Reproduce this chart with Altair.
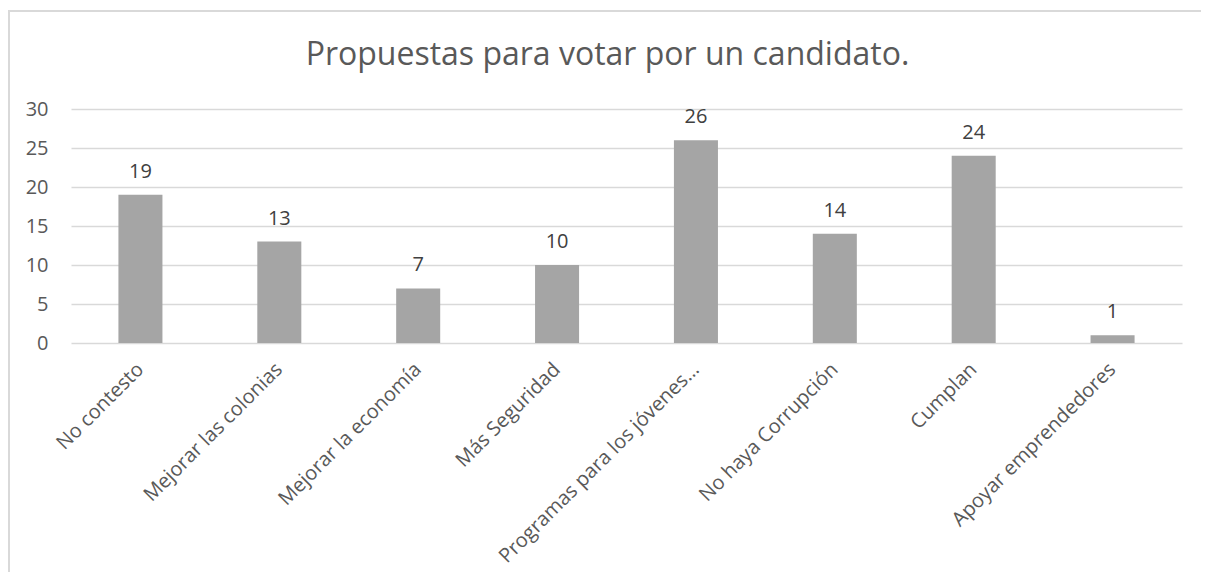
import altair as alt
import pandas as pd

categories = ["No contesto", "Mejorar las  colonias", "Mejorar la economía", "Más Seguridad",
              "Programas para los jóvenes…", "No haya Corrupción", "Cumplan", "Apoyar emprendedores"]
values = [19, 13, 7, 10, 26, 14, 24, 1]
y_ticks = [0, 5, 10, 15, 20, 25, 30]
title_text = "Propuestas para votar por un candidato."

df = pd.DataFrame({"cat": categories, "val": values})
FONT = "Open Sans"
FS = 20

x_enc = alt.X("cat:N", sort=categories, title=None,
              scale=alt.Scale(paddingInner=0.683, paddingOuter=0.3415),
              axis=alt.Axis(labelAngle=-45, labelAlign="right", labelBaseline="middle",
                            labelPadding=23, labelFontSize=20, labelColor="#595959",
                            labelFont=FONT, domain=False, ticks=False, grid=False,
                            labelLimit=400))
y_enc = alt.Y("val:Q", title=None,
              scale=alt.Scale(domain=[0, 30], nice=False),
              axis=alt.Axis(values=y_ticks, labelFontSize=FS, labelColor="#595959",
                            labelFont=FONT, domain=False, ticks=False, labelPadding=23,
                            labelOverlap=False, gridColor="#D9D9D9", gridWidth=1.3))

bars = alt.Chart(df).mark_bar(color="#A5A5A5").encode(x=x_enc, y=y_enc)
labels = alt.Chart(df).mark_text(baseline="alphabetic", dy=-17, fontSize=FS,
                                  color="#404040", font=FONT).encode(
    x=x_enc, y=y_enc, text="val:Q")
border = alt.Chart(df).mark_rect(fill=None, stroke="#D9D9D9", strokeWidth=1.5).encode(
    x=alt.value(-62), x2=alt.value(1300), y=alt.value(-98), y2=alt.value(600))

chart = alt.layer(border, bars, labels).properties(
    width=1111, height=234,
    autosize=alt.AutoSizeParams(type="none"),
    padding={"left": 63, "top": 101, "right": 19, "bottom": 229},
    title=alt.TitleParams(title_text, fontSize=32, color="#595959", font=FONT,
                          fontWeight="normal", anchor="middle", frame="group",
                          baseline="alphabetic", offset=0, dy=87, dx=-19),
).configure_view(stroke=None)

chart.save("out.html", embed_options={"renderer": "svg", "actions": False})
